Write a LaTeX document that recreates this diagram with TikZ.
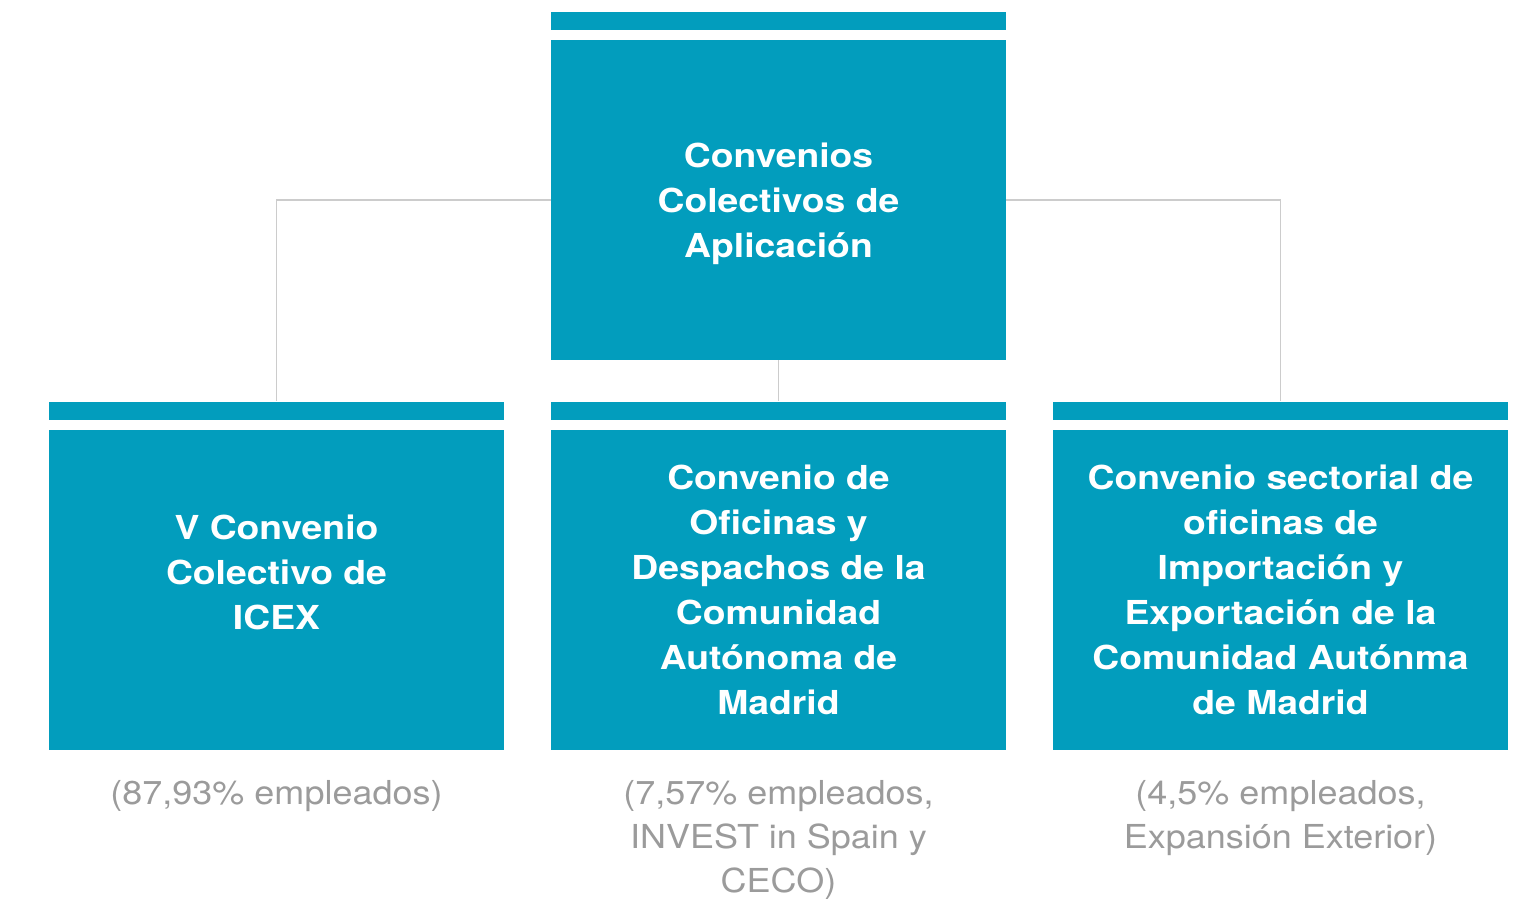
\documentclass[tikz,border=0pt]{standalone}
\usepackage{fontspec}
\setmainfont{TeX Gyre Heros}
\newfontfamily\boxfont{TeX Gyre Heros}[FakeStretch=1.13]
\newfontfamily\notefont{TeX Gyre Heros}[FakeStretch=1.09]
\usetikzlibrary{positioning}
\definecolor{icexblue}{HTML}{029DBD}
\definecolor{linegray}{HTML}{CCCCCC}
\definecolor{textgray}{HTML}{9B9B9B}
\tikzset{
  x=1pt, y=-1pt, % one unit is one pixel of the page
  box/.style={fill=icexblue, minimum width=455pt, minimum height=320pt, inner sep=0pt,
    text=white, font=\boxfont\fontsize{33}{45}\selectfont\bfseries, align=center}, % the big boxes
  bar/.style={fill=icexblue, minimum width=455pt, minimum height=18pt, inner sep=0pt}, % thin strip above each box
  note/.style={text=textgray, font=\notefont\fontsize{33}{44}\selectfont, align=center, inner sep=0pt}, % grey caption under a box
  link/.style={draw=linegray, line width=1.5pt}, % connector
}
\begin{document}
\begin{tikzpicture}
      \useasboundingbox (0,0) rectangle (1526,899);
      \node[box] (top) at (778.5,200) {Convenios\\Colectivos de\\Aplicación\\[-46pt]\mbox{}};
      \node[box] (icex) at (276.5,590) {V Convenio\\Colectivo de\\ICEX\\[-9pt]\mbox{}};
      \node[box] (ofic) at (778.5,590) {Convenio de\\Oficinas y\\Despachos de la\\Comunidad\\Autónoma de\\Madrid};
      \node[box] (sect) at (1280.5,590) {Convenio sectorial de\\oficinas de\\Importación y\\Exportación de la\\Comunidad Autónma\\de Madrid};

      \node[bar, above=10pt of top] (topbar) {};
      \node[bar, above=10pt of icex] (icexbar) {};
      \node[bar, above=10pt of ofic] (oficbar) {};
      \node[bar, above=10pt of sect] (sectbar) {};

      \node[note, below=30pt of icex] (icexnote) {(87,93\% empleados)};
      \node[note, below=30pt of ofic] (oficnote) {(7,57\% empleados,\\INVEST in Spain y\\CECO)};
      \node[note, below=30pt of sect] (sectnote) {(4,5\% empleados,\\Expansión Exterior)};

      \draw[link] (top.west) -| (icexbar.north);
      \draw[link] (top.south) -- (oficbar.north);
      \draw[link] (top.east) -| (sectbar.north);
    \end{tikzpicture}
\end{document}
